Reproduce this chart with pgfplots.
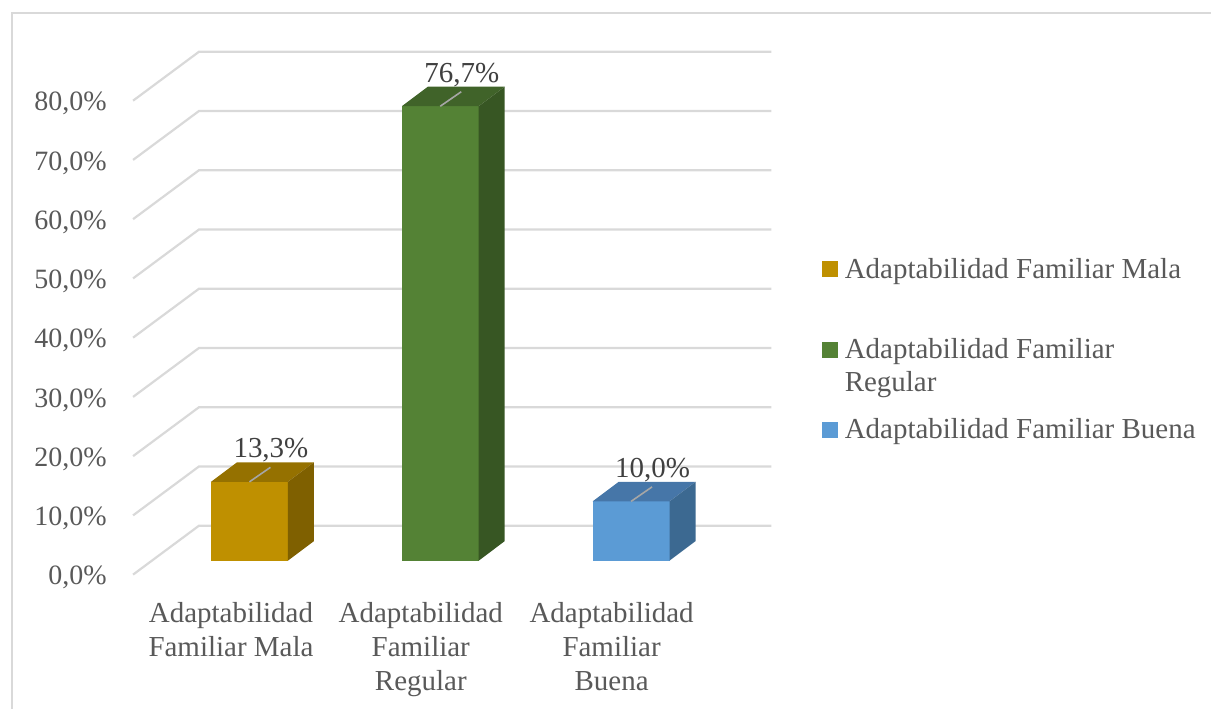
\documentclass[border=0pt]{standalone}
\usepackage{pgfplots}
\pgfplotsset{compat=1.18}
\usepackage{pgfplotstable}
\usepackage{fontspec}
\setmainfont{Liberation Serif}

\definecolor{mala}{HTML}{BF9000}
\definecolor{malatop}{HTML}{957100}
\definecolor{malaside}{HTML}{7F6000}
\definecolor{regular}{HTML}{548235}
\definecolor{regulartop}{HTML}{406329}
\definecolor{regularside}{HTML}{375623}
\definecolor{buena}{HTML}{5B9BD5}
\definecolor{buenatop}{HTML}{4676A8}
\definecolor{buenaside}{HTML}{3C6991}
\definecolor{gridc}{HTML}{D9D9D9}
\definecolor{txt}{HTML}{595959}
\definecolor{lab}{HTML}{404040}
\definecolor{leader}{HTML}{A6A6A6}

% bar data: x0 = left edge of the front face (px), v = percentage
\pgfplotstableread{
x0  v
211 13.3
402 76.7
593 10.0
}\bardata

% unit faces of a box (a: along width, h: along height, d: along depth)
\pgfplotstableread{
a h d
0 0 0
1 0 0
1 1 0
0 1 0
}\frontface
\pgfplotstableread{
a h d
0 1 0
1 1 0
1 1 1
0 1 1
}\topface
\pgfplotstableread{
a h d
1 0 0
1 0 1
1 1 1
1 1 0
}\sideface
\pgfplotstableread{
x d
133 0
199 1
772 1
}\gridpath

\newcommand\threedbar[3]{%
  \addplot[fill=#3, draw=none, mark=none, forget plot]
    table[x expr={#1+77*\thisrow{a}+26*\thisrow{d}}, y expr={2.36+#2*\thisrow{h}+3.29*\thisrow{d}}] {\frontface};
  \addplot[fill=#3top, draw=none, mark=none, forget plot]
    table[x expr={#1+77*\thisrow{a}+26*\thisrow{d}}, y expr={2.36+#2*\thisrow{h}+3.29*\thisrow{d}}] {\topface};
  \addplot[fill=#3side, draw=none, mark=none, forget plot]
    table[x expr={#1+77*\thisrow{a}+26*\thisrow{d}}, y expr={2.36+#2*\thisrow{h}+3.29*\thisrow{d}}] {\sideface};
}

\begin{document}
\begin{tikzpicture}
\begin{axis}[
  scale only axis, width=606pt, height=354.5pt,
  xmin=0, xmax=1212, ymin=-22.6, ymax=96.96,
  axis line style={draw=none}, major tick length=0pt,
  clip=false,
  /pgf/number format/assume math mode=true,
  ytick={0,10,...,80},
  yticklabel={\pgfmathprintnumber[fixed,fixed zerofill,precision=1,use comma]{\tick}\%},
  yticklabel style={anchor=east, inner sep=0pt, xshift=53.5pt, yshift=-1.5pt,
    font=\fontsize{14}{16}\selectfont, text=txt},
  xtick={231,421,612},
  xticklabels={{Adaptabilidad\\Familiar Mala},{Adaptabilidad\\Familiar\\Regular},{Adaptabilidad\\Familiar\\Buena}},
  xticklabel style={anchor=north, align=center, inner sep=0pt, yshift=53.5pt,
    font=\fontsize{14.5}{17}\selectfont, text=txt},
]
\path (rel axis cs:0,0) rectangle (rel axis cs:1,1);
% chart border (top and left visible)
\draw[gridc, line width=1pt] (axis cs:12,-22.6) -- (axis cs:12,94.77) -- (axis cs:1212,94.77);

% gridlines: floor-to-wall slant + back wall line
\pgfplotsinvokeforeach{0,10,20,30,40,50,60,70,80}{
  \addplot[gridc, line width=1.1pt, mark=none, forget plot]
    table[x=x, y expr={#1+8.26*\thisrow{d}}] {\gridpath};
}

% 3D bars
\threedbar{211}{13.3}{mala}
\threedbar{402}{76.7}{regular}
\threedbar{593}{10.0}{buena}

% leader lines
\addplot[leader, line width=0.8pt, mark=none, forget plot,
  quiver={u=21, v=2.45}, -]
  table[x expr={\thisrow{x0}+38.5}, y expr={\thisrow{v}+2.36}] {\bardata};

% data labels
\addplot[draw=none, mark=none, forget plot,
  point meta={\thisrow{v}},
  nodes near coords={\pgfmathprintnumber[fixed,fixed zerofill,precision=1,use comma]{\pgfplotspointmeta}\%},
  every node near coord/.append style={anchor=base, inner sep=0pt, text=lab,
    font=\fontsize{14.5}{17}\selectfont}]
  table[x expr={\thisrow{x0}+60}, y expr={\thisrow{v}+6.43}] {\bardata};

% legend
\addplot[only marks, mark=square*, mark size=3.75pt, mark options={fill=mala, draw=mala, line width=0pt}, forget plot]
  coordinates {(830.5,51.52)};
\addplot[only marks, mark=square*, mark size=3.75pt, mark options={fill=regular, draw=regular, line width=0pt}, forget plot]
  coordinates {(830.5,37.94)};
\addplot[only marks, mark=square*, mark size=3.75pt, mark options={fill=buena, draw=buena, line width=0pt}, forget plot]
  coordinates {(830.5,24.45)};
\node[anchor=base west, inner sep=0pt, text=txt, font=\fontsize{14.5}{16}\selectfont]
  at (axis cs:845,49.92) {Adaptabilidad Familiar Mala};
\node[anchor=base west, inner sep=0pt, text=txt, font=\fontsize{14.5}{16}\selectfont]
  at (axis cs:845,36.54) {Adaptabilidad Familiar};
\node[anchor=base west, inner sep=0pt, text=txt, font=\fontsize{14.5}{16}\selectfont]
  at (axis cs:845,30.90) {Regular};
\node[anchor=base west, inner sep=0pt, text=txt, font=\fontsize{14.5}{16}\selectfont]
  at (axis cs:845,23.05) {Adaptabilidad Familiar Buena};
\end{axis}
\end{tikzpicture}
\end{document}
